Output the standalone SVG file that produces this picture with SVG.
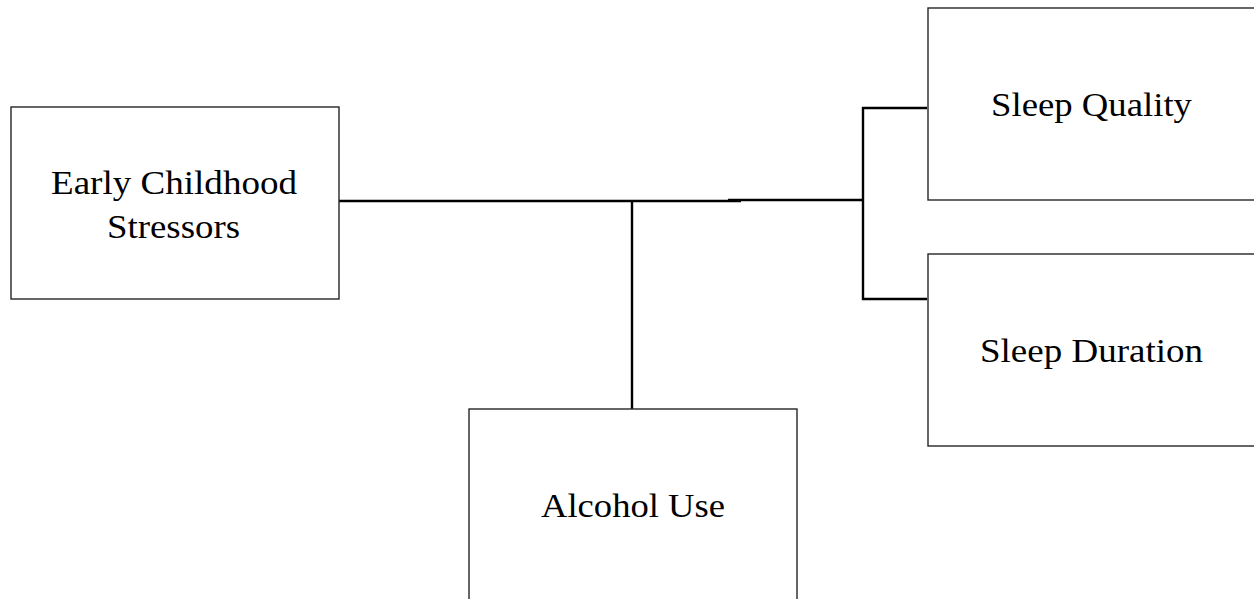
<svg xmlns="http://www.w3.org/2000/svg" width="1254" height="599" viewBox="0 0 1254 599">
  <style>
    .box { fill: #ffffff; stroke: #262626; stroke-width: 1.4; }
    .lbl { font-family: "Liberation Serif", "Times New Roman", serif; font-size: 34px; fill: #000000; }
    .conn { stroke: #000000; stroke-width: 2.4; fill: none; }
  </style>
  <rect width="1254" height="599" fill="#ffffff"/>
  <g id="connectors">
    <line class="conn" x1="339" y1="201" x2="741" y2="201"/>
    <line class="conn" x1="728" y1="200" x2="863" y2="200"/>
    <line class="conn" x1="632" y1="201" x2="632" y2="409"/>
    <polyline class="conn" points="927,108 863,108 863,299 927,299"/>
  </g>
  <g id="node-early">
    <rect class="box" x="11" y="107" width="328" height="192"/>
    <text class="lbl" x="51" y="194" textLength="246" lengthAdjust="spacingAndGlyphs">Early Childhood</text>
    <text class="lbl" x="107" y="238" textLength="133" lengthAdjust="spacingAndGlyphs">Stressors</text>
  </g>
  <g id="node-alcohol">
    <rect class="box" x="469" y="409" width="328" height="200"/>
    <text class="lbl" x="541" y="517" textLength="184" lengthAdjust="spacingAndGlyphs">Alcohol Use</text>
  </g>
  <g id="node-sleep-quality">
    <rect class="box" x="928" y="8" width="340" height="192"/>
    <text class="lbl" x="991" y="116" textLength="201" lengthAdjust="spacingAndGlyphs">Sleep Quality</text>
  </g>
  <g id="node-sleep-duration">
    <rect class="box" x="928" y="254" width="340" height="192"/>
    <text class="lbl" x="980" y="362" textLength="223" lengthAdjust="spacingAndGlyphs">Sleep Duration</text>
  </g>
</svg>
